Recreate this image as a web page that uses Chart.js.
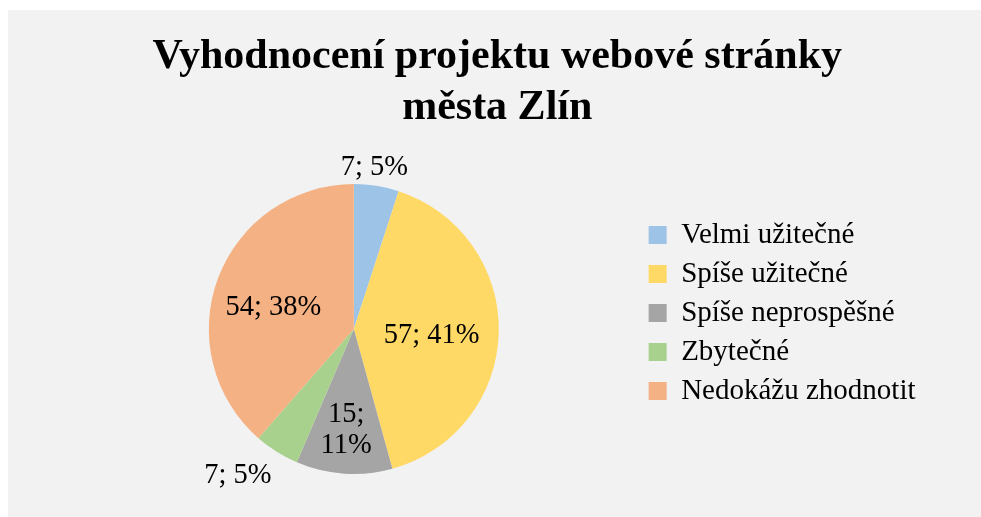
<!DOCTYPE html>
<html lang="cs">
<head>
<meta charset="utf-8">
<script src="https://cdn.jsdelivr.net/npm/chart.js@4/dist/chart.umd.min.js"></script>
<style>
  html, body { margin: 0; padding: 0; background: #fff; }
  #bg { position: absolute; left: 8px; top: 10px; right: 0; bottom: 0; background: #f2f2f2; }
  #wrap { position: absolute; left: 0; top: 0; width: 981px; height: 517px; }
</style>
</head>
<body>
<div id="bg"></div>
<div id="wrap"><canvas id="pieChart"></canvas></div>
<script>
// Data
const categories = ['Velmi užitečné', 'Spíše užitečné', 'Spíše neprospěšné', 'Zbytečné', 'Nedokážu zhodnotit'];
const counts = [7, 57, 15, 7, 54];
const percents = [5, 41, 11, 5, 38];
const sliceColors = ['#9dc3e6', '#ffd966', '#a5a5a5', '#a9d18e', '#f4b183'];

// label placement: radial factor of outer radius + small pixel nudge
const labelPlace = [
  { r: 1.13, dx: -5, dy: 0 },
  { r: 0.55, dx: -2, dy: 5 },
  { r: 0.68, dx: -1, dy: 2 },
  { r: 1.27, dx: -18, dy: -9 },
  { r: 0.57, dx: -3, dy: 8 }
];

const serif = "'Liberation Serif', 'Times New Roman', serif";

// Draws "value; percent%" labels at each arc
const sliceLabels = {
  id: 'sliceLabels',
  afterDatasetsDraw(chart) {
    const ctx = chart.ctx;
    const meta = chart.getDatasetMeta(0);
    ctx.save();
    ctx.font = '28.5px ' + serif;
    ctx.fillStyle = '#000';
    ctx.textAlign = 'center';
    ctx.textBaseline = 'middle';
    meta.data.forEach((arc, i) => {
      const p = arc.getProps(['x', 'y', 'startAngle', 'endAngle', 'outerRadius'], true);
      const mid = (p.startAngle + p.endAngle) / 2;
      const d = p.outerRadius * labelPlace[i].r;
      const x = p.x + Math.cos(mid) * d + labelPlace[i].dx;
      const y = p.y + Math.sin(mid) * d + labelPlace[i].dy;
      if (i === 2) {
        ctx.fillText(counts[i] + ';', x, y - 15);
        ctx.fillText(percents[i] + '%', x, y + 16);
      } else {
        ctx.fillText(counts[i] + '; ' + percents[i] + '%', x, y);
      }
    });
    ctx.restore();
  }
};

const ctx = document.getElementById('pieChart').getContext('2d');
const pieChart = new Chart(ctx, {
  type: 'pie',
  data: {
    labels: categories,
    datasets: [{
      data: counts,
      backgroundColor: sliceColors,
      borderWidth: 0,
      clip: false
    }]
  },
  options: {
    responsive: true,
    maintainAspectRatio: false,
    animation: false,
    radius: 145,
    layout: {
      padding: { left: 69, right: 55.5, top: 0, bottom: 69.5 }
    },
    plugins: {
      title: {
        display: true,
        text: ['Vyhodnocení projektu webové stránky', 'města Zlín'],
        color: '#000',
        font: { family: serif, size: 42, weight: 'bold', lineHeight: 1.22 },
        padding: { top: 31.5, bottom: 76.6 }
      },
      legend: {
        position: 'right',
        align: 'start',
        fullSize: false,
        labels: {
          color: '#000',
          boxWidth: 18,
          boxHeight: 18,
          padding: 10,
          font: { family: serif, size: 29 }
        }
      },
      tooltip: { enabled: false }
    }
  },
  plugins: [sliceLabels]
});
</script>
</body>
</html>
